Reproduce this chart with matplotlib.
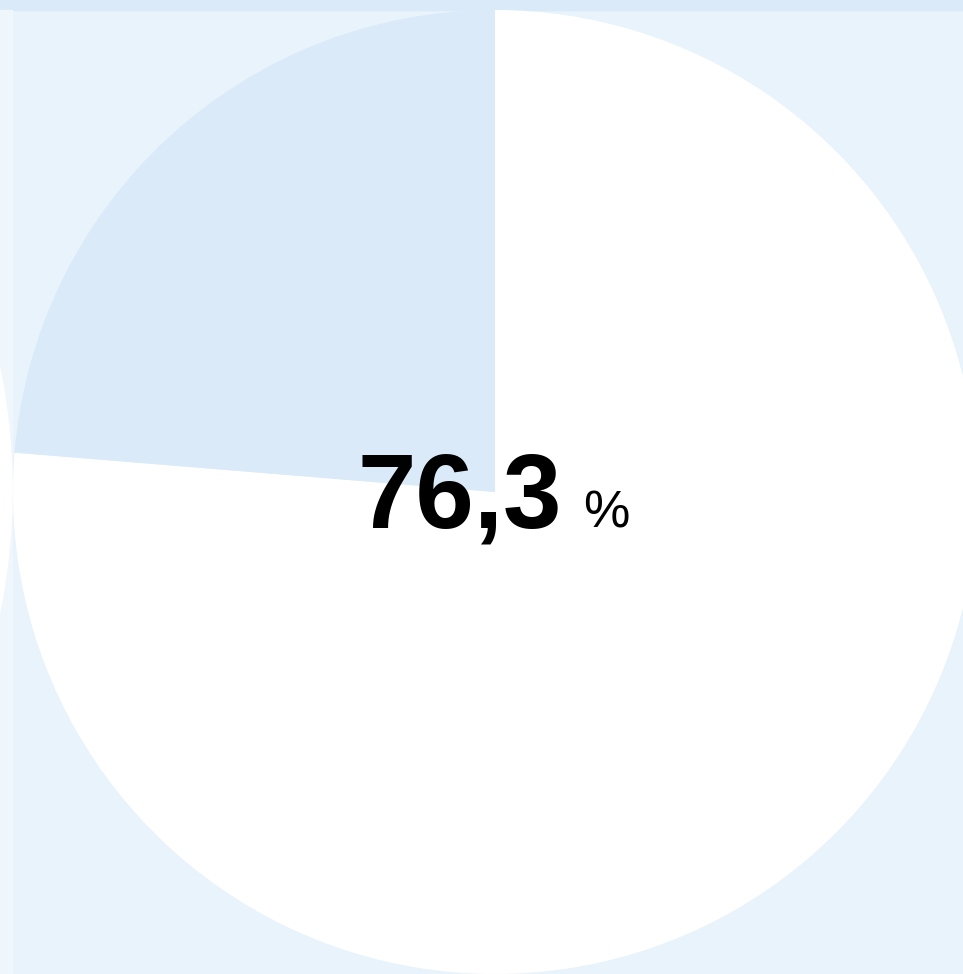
import matplotlib.pyplot as plt
from matplotlib.patches import Ellipse, Rectangle

# chart data
labels = ["Ja", "Nein"]
values = [76.3, 23.7]
colors = ["#ffffff", "#dbeaf8"]
value_text = "76,3"
unit_text = "%"

W, H = 963, 974

fig = plt.figure(figsize=(W / 100, H / 100), dpi=100)
fig.patch.set_facecolor("#e8f3fb")
ax = fig.add_axes([0, 0, 1, 1])
ax.set_xlim(0, W)
ax.set_ylim(0, H)
ax.axis("off")

# background strips of the page
ax.add_patch(Rectangle((0, H - 10), W, 10, color="#dbeaf8", zorder=0))
ax.add_patch(Rectangle((0, 0), 12, H - 10, color="#f0f7fc", zorder=0))
ax.add_patch(Ellipse((-600, 484), 1224, 1224, color="#ffffff", zorder=0.5))

ax.pie(values, colors=colors, startangle=90, counterclock=False,
       center=(495, 482), radius=482, frame=True,
       wedgeprops=dict(linewidth=0))
ax.set_xlim(0, W)
ax.set_ylim(0, H)
ax.set_aspect("auto")
ax.axis("off")

ax.text(358, 447, value_text, fontsize=75.6, fontweight="bold",
        family="Liberation Sans", ha="left", va="baseline", color="black")
ax.text(583, 447, unit_text, fontsize=37.5,
        family="Liberation Sans", ha="left", va="baseline", color="black")

fig.savefig("out.png", dpi=100)
